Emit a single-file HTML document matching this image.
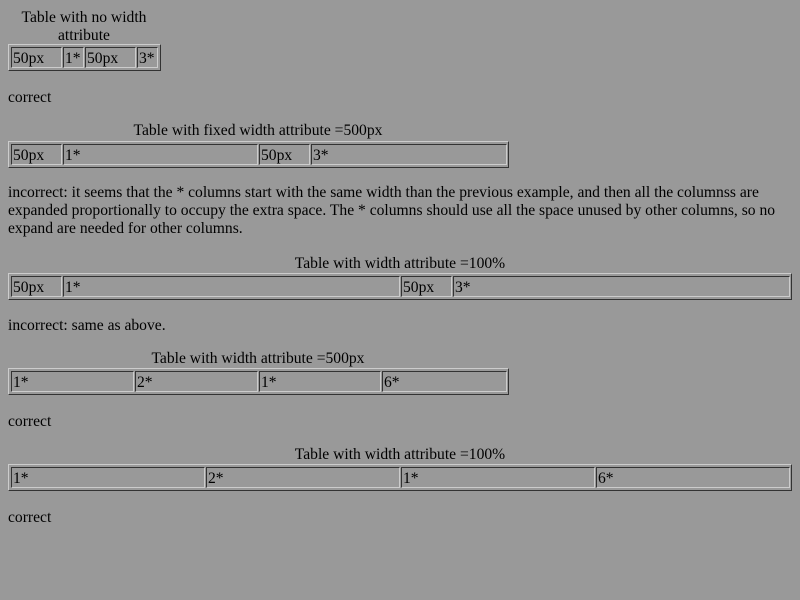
<!DOCTYPE html>
<html><head><style>
body{margin:0;background:#999;width:800px;height:600px;position:relative;overflow:hidden;font-family:"Liberation Serif",serif;font-size:15.6px;color:#000}
.t{position:absolute;line-height:18px;white-space:nowrap}
.tb{position:absolute;border:1px solid;border-color:#ccc #333 #333 #ccc;box-sizing:border-box;height:27px}
.c{position:absolute;top:2px;height:21px;border:1px solid;border-color:#333 #ccc #ccc #333;box-sizing:border-box;padding-left:1px;line-height:21px}
</style></head><body>
<div class="t" style="left:8px;width:152px;top:9px;text-align:center">Table with no width<br>attribute</div>
<div class="tb" style="left:8px;top:44px;width:153px">
<div class="c" style="left:2px;width:51px">50px</div><div class="c" style="left:54px;width:21px">1*</div><div class="c" style="left:76px;width:51px">50px</div><div class="c" style="left:128px;width:21px">3*</div></div>
<div class="t" style="left:8px;top:89px">correct</div>

<div class="t" style="left:8px;width:500px;top:122px;text-align:center">Table with fixed width attribute =500px</div>
<div class="tb" style="left:8px;top:141px;width:501px">
<div class="c" style="left:2px;width:51px">50px</div><div class="c" style="left:54px;width:195px">1*</div><div class="c" style="left:250px;width:51px">50px</div><div class="c" style="left:302px;width:196px">3*</div></div>
<div class="t" style="left:8px;top:184px;white-space:normal;width:790px">incorrect: it seems that the * columns start with the same width than the previous example, and then all the columnss are expanded proportionally to occupy the extra space. The * columns should use all the space unused by other columns, so no expand are needed for other columns.</div>

<div class="t" style="left:8px;width:784px;top:255px;text-align:center">Table with width attribute =100%</div>
<div class="tb" style="left:8px;top:273px;width:784px">
<div class="c" style="left:2px;width:51px">50px</div><div class="c" style="left:54px;width:337px">1*</div><div class="c" style="left:392px;width:51px">50px</div><div class="c" style="left:444px;width:337px">3*</div></div>
<div class="t" style="left:8px;top:317px">incorrect: same as above.</div>

<div class="t" style="left:8px;width:500px;top:350px;text-align:center">Table with width attribute =500px</div>
<div class="tb" style="left:8px;top:368px;width:501px">
<div class="c" style="left:2px;width:123px">1*</div><div class="c" style="left:126px;width:123px">2*</div><div class="c" style="left:250px;width:122px">1*</div><div class="c" style="left:373px;width:125px">6*</div></div>
<div class="t" style="left:8px;top:413px">correct</div>

<div class="t" style="left:8px;width:784px;top:446px;text-align:center">Table with width attribute =100%</div>
<div class="tb" style="left:8px;top:464px;width:784px">
<div class="c" style="left:2px;width:194px">1*</div><div class="c" style="left:197px;width:194px">2*</div><div class="c" style="left:392px;width:194px">1*</div><div class="c" style="left:587px;width:194px">6*</div></div>
<div class="t" style="left:8px;top:509px">correct</div>
</body></html>
